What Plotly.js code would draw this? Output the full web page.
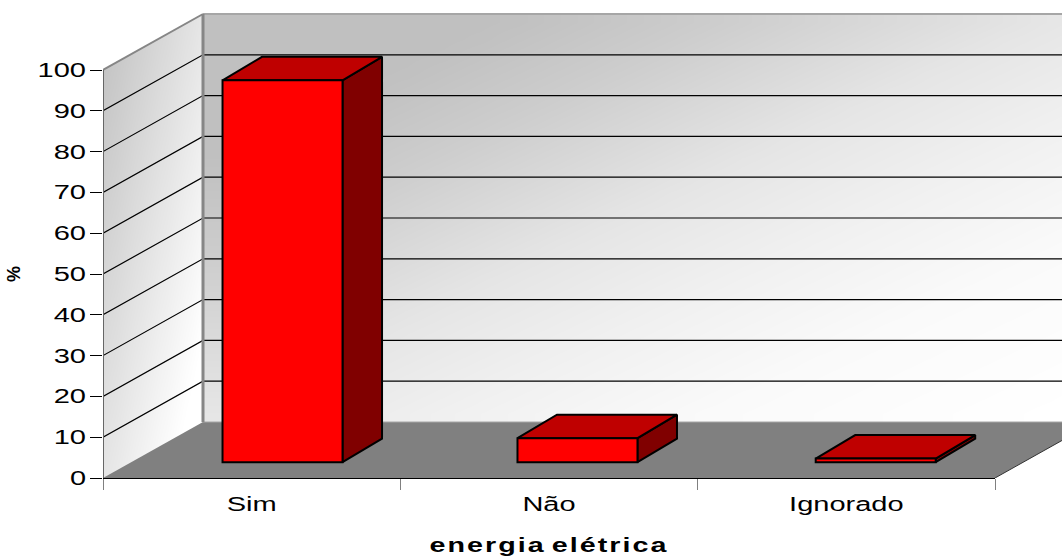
<!DOCTYPE html>
<html>
<head>
<meta charset="utf-8">
<script src="https://cdn.plot.ly/plotly-3.0.1.min.js"></script>
<style>html,body{margin:0;padding:0;background:#fff;overflow:hidden}</style>
</head>
<body>
<div id="chart" style="width:1062px;height:556px"></div>
<script>
// Share of households by access to electricity
const categories = ['Sim', 'Não', 'Ignorado'];
const values = [93.6, 5.9, 0.9];
const gridValues = [10, 20, 30, 40, 50, 60, 70, 80, 90];
const axisTitleX = 'energia elétrica';
const axisTitleY = '%';

// Pixel layout of the 3D box
const W = 1062, H = 556;
const plotLeft = 103, plotRight = 995, floorY = 478, valueTop = 70, wallTop = 10;
const pxPerCat = (plotRight - plotLeft) / categories.length;
const pxPerUnit = (floorY - valueTop) / 100;
const depthX = 100 / pxPerCat, depthY = 56 / pxPerUnit;   // box depth in data units
const barDepthX = 39.5 / pxPerCat, barDepthY = 23.5 / pxPerUnit;
const barBase = 15.8 / pxPerUnit, barWidth = 120 / pxPerCat;
const barOffsets = [-0.098, -0.106, -0.103];
const xMin = -0.5, xMax = -0.5 + (W - plotLeft) / pxPerCat, xEnd = 2.5;
const yMaxWalls = (floorY - wallTop) / pxPerUnit;

// Tone curve of the back wall: eases into white toward the lower right
const toneIn = [192, 205, 224, 238, 254, 275];
const toneOut = [192, 205, 229, 240, 250, 255];
function tone(t) {
  if (t <= toneIn[0]) return toneOut[0];
  for (let i = 1; i < toneIn.length; i++) {
    if (t <= toneIn[i]) {
      const f = (t - toneIn[i - 1]) / (toneIn[i] - toneIn[i - 1]);
      return toneOut[i - 1] + f * (toneOut[i] - toneOut[i - 1]);
    }
  }
  return 255;
}

// Diagonal grey shading for the walls, as a fine heatmap grid
function shadedWall(x0, x1, y0, y1, shade) {
  const n = 24, xs = [], ys = [], z = [];
  for (let i = 0; i <= n; i++) { xs.push(x0 + (x1 - x0) * i / n); ys.push(y0 + (y1 - y0) * i / n); }
  for (let j = 0; j < n; j++) {
    const row = [];
    for (let i = 0; i < n; i++) {
      row.push(Math.max(192, Math.min(255, shade((i + 0.5) / n, 1 - (j + 0.5) / n))));
    }
    z.push(row);
  }
  return {
    type: 'heatmap', x: xs, y: ys, z: z, zsmooth: 'best', zmin: 0, zmax: 255, showscale: false,
    colorscale: [[0, '#000000'], [1, '#ffffff']], hoverinfo: 'skip', xaxis: 'x', yaxis: 'y'
  };
}

function poly(xs, ys, fill, lineColor, lineWidth) {
  return {
    type: 'scatter', mode: 'lines', x: xs, y: ys, fill: 'toself', fillcolor: fill,
    line: { color: lineColor, width: lineWidth }, hoverinfo: 'skip', showlegend: false,
    cliponaxis: true, xaxis: 'x', yaxis: 'y'
  };
}
function stroke(xs, ys, color, width) {
  return {
    type: 'scatter', mode: 'lines', x: xs, y: ys, line: { color: color, width: width },
    hoverinfo: 'skip', showlegend: false, cliponaxis: false, xaxis: 'x', yaxis: 'y'
  };
}

const traces = [];

// Back wall and left side wall
traces.push(shadedWall(xMin + depthX, xEnd + depthX, depthY, 100 + depthY,
  (u, v) => tone(173 + 53.5 * u + 51.8 * v)));
traces.push(shadedWall(xMin, xMin + depthX, 0, 100 + depthY,
  (u, v) => 191.8 + 37.6 * u + 37.1 * v));
// Blank the corner of the side-wall rectangle above its sloping top edge
traces.push(poly([xMin, xMin + depthX, xMin + depthX, xMin, xMin],
  [100, 100 + depthY, yMaxWalls, yMaxWalls, 100], '#ffffff', 'rgba(0,0,0,0)', 0));

// Floor
traces.push(poly([xMin, xMin + depthX, xEnd + depthX, xEnd, xMin],
  [0, depthY, depthY, 0, 0], '#808080', 'rgba(0,0,0,0)', 0));

// Gridlines running along the side wall and across the back wall
const gx = [], gy = [];
gridValues.forEach(v => {
  gx.push(xMin, xMin + depthX, xEnd + depthX, null);
  gy.push(v, v + depthY, v + depthY, null);
});
traces.push(stroke(gx, gy, '#000000', 1.2));
traces[traces.length - 1].cliponaxis = true;

// Box edges
traces.push(stroke([xMin + depthX, xEnd + depthX], [depthY, depthY], '#a6a6a6', 1));
traces.push(stroke([xMin + depthX, xEnd + depthX], [100 + depthY, 100 + depthY], '#a6a6a6', 2));
traces.push(stroke([xMin + depthX, xMin + depthX], [depthY, 100 + depthY], '#868686', 3));
traces.push(stroke([xMin, xMin + depthX], [100, 100 + depthY], '#868686', 2));
traces.push(stroke([xMin, xMin], [-10 / pxPerUnit, 100], '#666666', 2));
traces.push(stroke([xEnd, xEnd + depthX], [0, depthY], '#333333', 1));

// Side and top faces of each bar
categories.forEach((c, i) => {
  const left = i + barOffsets[i], right = left + barWidth;
  const top = barBase + values[i];
  traces.push(poly(
    [right, right + barDepthX, right + barDepthX, right, right],
    [barBase, barBase + barDepthY, top + barDepthY, top, barBase], '#800000', '#000000', 2));
  traces.push(poly(
    [left, left + barDepthX, right + barDepthX, right, left],
    [top, top + barDepthY, top + barDepthY, top, top], '#bf0000', '#000000', 2));
});

// Front faces, on the labelled category and value axes
traces.push({
  type: 'bar', x: categories, y: values, base: barBase, width: barWidth, offset: barOffsets,
  marker: { color: '#ff0000', line: { color: '#000000', width: 2 } },
  hoverinfo: 'skip', showlegend: false, xaxis: 'x2', yaxis: 'y2'
});

const labelFont = { family: '"Liberation Sans", Arial, sans-serif', size: 20, color: '#000000' };
const titleFont = { family: '"Liberation Sans", Arial, sans-serif', size: 21, color: '#000000', weight: 700 };

const layout = {
  width: W, height: H, margin: { l: 0, r: 0, t: 0, b: 0 },
  paper_bgcolor: '#ffffff', plot_bgcolor: 'rgba(0,0,0,0)', showlegend: false, barmode: 'overlay',
  xaxis: {
    domain: [plotLeft / W, 1], range: [xMin, xMax], visible: false, fixedrange: true,
    anchor: 'y'
  },
  yaxis: {
    domain: [(H - floorY) / H, (H - wallTop) / H], range: [0, yMaxWalls], visible: false,
    fixedrange: true, anchor: 'x'
  },
  xaxis2: {
    domain: [plotLeft / W, plotRight / W], type: 'category', categoryorder: 'array',
    categoryarray: categories, range: [-0.5, 2.5], anchor: 'y2', tickson: 'boundaries',
    ticks: 'outside', ticklen: 11, tickwidth: 1, tickcolor: '#808080', showgrid: false,
    showline: true, linecolor: '#000000', linewidth: 1, tickfont: labelFont,
    ticklabelstandoff: 8, fixedrange: true, zeroline: false,
    title: { text: axisTitleX, font: titleFont, standoff: 24 }
  },
  yaxis2: {
    domain: [(H - floorY) / H, (H - valueTop) / H], range: [0, 100], anchor: 'x2',
    tickmode: 'linear', tick0: 0, dtick: 10, ticks: 'outside', ticklen: 12, tickwidth: 1,
    tickcolor: '#000000', showgrid: false, showline: false, zeroline: false,
    tickfont: labelFont, fixedrange: true,
    title: { text: axisTitleY, font: Object.assign({}, titleFont, { size: 18 }), standoff: 27 }
  }
};

// The axis text is set wide, so stretch it horizontally after layout
function widen(selector, factor) {
  document.querySelectorAll(selector).forEach(t => {
    const len = t.getComputedTextLength();
    t.setAttribute('lengthAdjust', 'spacingAndGlyphs');
    t.setAttribute('textLength', (len * factor).toFixed(1));
  });
}

Plotly.newPlot('chart', traces, layout, { staticPlot: true, displayModeBar: false }).then(() => {
  widen('.xtick text, .x2tick text, .ytick text, .y2tick text', 1.45);
  document.querySelectorAll('.x2title').forEach(t => {
    t.style.letterSpacing = '1.5px';
    t.style.wordSpacing = '-3px';
    t.setAttribute('lengthAdjust', 'spacingAndGlyphs');
    t.setAttribute('textLength', '239');
  });
});
</script>
</body>
</html>
